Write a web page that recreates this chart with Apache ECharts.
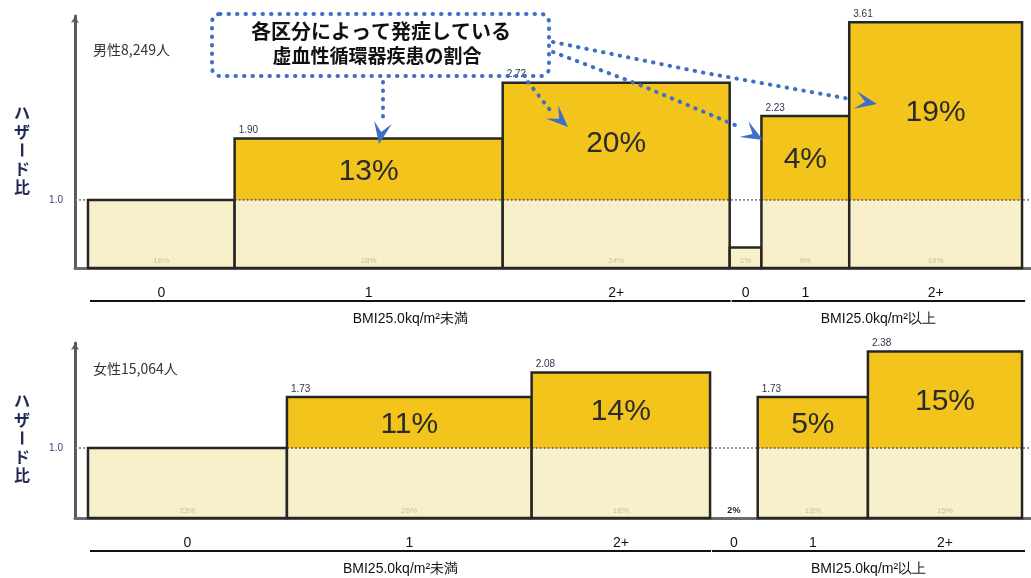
<!DOCTYPE html>
<html>
<head>
<meta charset="utf-8">
<script src="https://cdn.jsdelivr.net/npm/echarts@6/dist/echarts.min.js"></script>
<style>
  html, body { margin: 0; background: #fff; }
  #chart { width: 1031px; height: 578px; }
</style>
</head>
<body>
<div id="chart"></div>
<script>
// categories
const riskLabels = ["0", "1", "2+", "0", "1", "2+"];
const groupLabels = ["BMI25.0kq/m²未満", "BMI25.0kq/m²以上"];
const groupSizes = [3, 3];

// male: width share (%), hazard ratio, labels
const maleShare = [15.7, 28.7, 24.3, 3.4, 9.4, 18.5];
const maleHazard = [1.0, 1.9, 2.72, 0.3, 2.23, 3.61];
const maleHazardText = ["", "1.90", "2.72", "", "2.23", "3.61"];
const maleAttrib = ["", "13%", "20%", "", "4%", "19%"];
const maleShareText = ["16%", "28%", "24%", "2%", "9%", "19%"];

// female
const femaleShare = [21.3, 26.2, 19.1, 5.1, 11.8, 16.5];
const femaleHazard = [1.0, 1.73, 2.08, 0, 1.73, 2.38];
const femaleHazardText = ["", "1.73", "2.08", "", "1.73", "2.38"];
const femaleAttrib = ["", "11%", "14%", "", "5%", "15%"];
const femaleShareText = ["23%", "26%", "16%", "2%", "13%", "15%"];

const X_MIN = -1.39, X_MAX = 100.96;
const YELLOW = "#f2c41c";
const CREAM = "#f8f0cb";
const EDGE = "#262626";
const LATIN = "'Liberation Sans', Arial, sans-serif";
const NARROW = "'Liberation Sans Narrow', 'Liberation Sans', Arial, sans-serif";
const CJK = "'Noto Sans CJK JP', sans-serif";

function barData(share, hazard) {
  let acc = 0;
  return share.map((s, i) => {
    const item = [acc, acc + s, hazard[i], i];
    acc += s;
    return item;
  });
}

function groupData(share) {
  const out = [];
  let idx = 0, acc = 0;
  groupSizes.forEach((n, g) => {
    const start = acc;
    for (let k = 0; k < n; k++) acc += share[idx++];
    out.push([start, acc, g]);
  });
  return out;
}

function barRenderer(hazText, attribText, shareText) {
  return function (params, api) {
    const i = api.value(3);
    const x0 = api.value(0), x1 = api.value(1), v = api.value(2);
    const b0 = api.coord([x0, 0]);
    const b1 = api.coord([x1, 0]);
    const left = b0[0], w = b1[0] - b0[0], base = b0[1];
    const top = api.coord([x0, v])[1];
    const one = api.coord([x0, Math.min(v, 1)])[1];
    const ref = api.coord([x0, 1])[1];
    const cx = left + w / 2;
    const kids = [];
    if (v > 0) {
      kids.push({ type: "rect", shape: { x: left, y: one, width: w, height: base - one }, style: { fill: CREAM } });
      if (v > 1) {
        kids.push({ type: "rect", shape: { x: left, y: top, width: w, height: ref - top }, style: { fill: YELLOW } });
        kids.push({ type: "line", shape: { x1: left, y1: ref, x2: left + w, y2: ref },
          style: { stroke: "#555", lineWidth: 1.5, lineDash: [2, 2] } });
      }
      kids.push({ type: "rect", shape: { x: left, y: top, width: w, height: base - top },
        style: { fill: "none", stroke: EDGE, lineWidth: 2.5 } });
    }
    if (hazText[i]) {
      kids.push({ type: "text", x: left + 4, y: top - 3,
        style: { text: hazText[i], fill: "#2e3350", fontSize: 10, fontFamily: LATIN,
          align: "left", verticalAlign: "bottom", textAlign: "left", textVerticalAlign: "bottom" } });
    }
    if (attribText[i]) {
      kids.push({ type: "text", x: cx, y: (top + ref) / 2 + 2,
        style: { text: attribText[i], fill: "#2b2b2b", fontSize: 30, fontFamily: LATIN,
          align: "center", verticalAlign: "middle", textAlign: "center", textVerticalAlign: "middle" } });
    }
    const tiny = v < 0.2;
    kids.push({ type: "text", x: cx, y: base - 7,
      style: { text: shareText[i], fill: tiny ? "#222" : "#c9be9a", fontSize: tiny ? 9 : 8,
        fontWeight: tiny ? "bold" : "normal", fontFamily: LATIN,
        align: "center", verticalAlign: "middle", textAlign: "center", textVerticalAlign: "middle" } });
    kids.push({ type: "text", x: cx, y: base + 25,
      style: { text: riskLabels[i], fill: "#111", fontSize: 14, fontFamily: NARROW,
        align: "center", verticalAlign: "middle", textAlign: "center", textVerticalAlign: "middle" } });
    return { type: "group", children: kids };
  };
}

function groupRenderer(params, api) {
  const g = api.value(2);
  const a = api.coord([api.value(0), 0]);
  const b = api.coord([api.value(1), 0]);
  const base = a[1];
  const l = a[0] + 2, r = Math.min(b[0] + 3, 1026) - (g === 0 ? 2 : 0);
  return { type: "group", children: [
    { type: "line", shape: { x1: l, y1: base + 33, x2: r, y2: base + 33 }, style: { stroke: "#111", lineWidth: 2 } },
    { type: "text", x: (l + r) / 2, y: base + 51,
      style: { text: groupLabels[g], fill: "#111", fontSize: 14, fontFamily: NARROW,
        align: "center", verticalAlign: "middle", textAlign: "center", textVerticalAlign: "middle" } }
  ] };
}

function yAxisFor(gi, max) {
  return {
    gridIndex: gi, type: "value", min: 0, max: max, interval: 1,
    axisLine: { show: true, onZero: false, lineStyle: { color: "#5a5a5a", width: 3 },
      symbol: ["none", "arrow"], symbolSize: [6, 7] },
    axisTick: { show: false },
    splitLine: { show: false },
    axisLabel: { margin: 12, fontSize: 10, color: "#3b4670", fontFamily: LATIN,
      showMaxLabel: false, formatter: v => (v === 1 ? "1.0" : "") }
  };
}

function xAxisFor(gi) {
  return {
    gridIndex: gi, type: "value", min: X_MIN, max: X_MAX,
    axisLine: { show: true, onZero: false, lineStyle: { color: "#6a6a6a", width: 3 } },
    axisTick: { show: false }, axisLabel: { show: false }, splitLine: { show: false }
  };
}

function panelSeries(gi, share, hazard, hazText, attrib, shareText) {
  return [
    { type: "line", xAxisIndex: gi, yAxisIndex: gi, data: [[X_MIN, 1], [X_MAX, 1]],
      symbol: "none", silent: true, z: 1, lineStyle: { color: "#777", width: 1.5, type: [2, 2] } },
    { type: "custom", xAxisIndex: gi, yAxisIndex: gi, clip: false, z: 2,
      data: barData(share, hazard), renderItem: barRenderer(hazText, attrib, shareText) },
    { type: "custom", xAxisIndex: gi, yAxisIndex: gi, clip: false, z: 2,
      data: groupData(share), renderItem: groupRenderer }
  ];
}

// annotation helpers
function arrowHead(tip, from, len, half) {
  const dx = tip[0] - from[0], dy = tip[1] - from[1], d = Math.hypot(dx, dy);
  const ux = dx / d, uy = dy / d, nx = -uy, ny = ux;
  const bx = tip[0] - ux * len, by = tip[1] - uy * len;
  return [tip, [bx + nx * half, by + ny * half], [tip[0] - ux * len * 0.55, tip[1] - uy * len * 0.55],
    [bx - nx * half, by - ny * half]];
}
const BLUE = "#3d6fc6";
const dotted = { stroke: BLUE, lineWidth: 4, lineDash: [0.5, 8], lineCap: "round", fill: "none" };
const arrows = [
  { pts: [[383, 82], [383, 122]], tip: [379, 144] },
  { pts: [[528, 82], [550, 110]], tip: [568, 127] },
  { pts: [[553, 52], [640, 85], [742, 128]], tip: [763, 140] },
  { pts: [[553, 42], [700, 72], [850, 99]], tip: [877, 104] }
];
const arrowGraphics = [];
arrows.forEach(a => {
  arrowGraphics.push({ type: "polyline", shape: { points: a.pts }, style: dotted, z: 10 });
  const last = a.pts[a.pts.length - 1];
  arrowGraphics.push({ type: "polygon", shape: { points: arrowHead(a.tip, last, 22, 9) }, style: { fill: BLUE }, z: 10 });
});

function vName(cy) {
  const chars = ["ハ", "ザ", "ー", "ド", "比"];
  return chars.map((c, k) => ({
    type: "text", x: 22, y: cy + (k - 2) * 18.5, rotation: c === "ー" ? -Math.PI / 2 : 0, z: 10,
    style: { text: c, fill: "#1f2a52", fontSize: 16, fontWeight: "bold", fontFamily: CJK,
      align: "center", verticalAlign: "middle", textAlign: "center", textVerticalAlign: "middle" }
  }));
}

const chart = echarts.init(document.getElementById("chart"));
chart.setOption({
  animation: false,
  grid: [
    { left: 75, right: 0, top: 16, height: 252 },
    { left: 75, right: 0, top: 343, height: 175 }
  ],
  xAxis: [xAxisFor(0), xAxisFor(1)],
  yAxis: [yAxisFor(0, 3.7), yAxisFor(1, 2.5)],
  series: [
    ...panelSeries(0, maleShare, maleHazard, maleHazardText, maleAttrib, maleShareText),
    ...panelSeries(1, femaleShare, femaleHazard, femaleHazardText, femaleAttrib, femaleShareText)
  ],
  graphic: [
    { type: "text", left: 93, top: 43, z: 10,
      style: { text: "男性8,249人", fill: "#333", fontSize: 14, fontFamily: CJK } },
    { type: "text", left: 93, top: 362, z: 10,
      style: { text: "女性15,064人", fill: "#333", fontSize: 14, fontFamily: CJK } },
    { type: "rect", shape: { x: 212, y: 14, width: 337, height: 62, r: 8 }, style: dotted, z: 10 },
    { type: "text", x: 381, y: 31, z: 10,
      style: { text: "各区分によって発症している", fill: "#111", fontSize: 20, fontWeight: "bold", fontFamily: CJK,
        align: "center", verticalAlign: "middle", textAlign: "center", textVerticalAlign: "middle" } },
    { type: "text", x: 377, y: 56, z: 10,
      style: { text: "虚血性循環器疾患の割合", fill: "#111", fontSize: 19, fontWeight: "bold", fontFamily: CJK,
        align: "center", verticalAlign: "middle", textAlign: "center", textVerticalAlign: "middle" } },
    ...arrowGraphics,
    ...vName(150),
    ...vName(438)
  ]
});
</script>
</body>
</html>
